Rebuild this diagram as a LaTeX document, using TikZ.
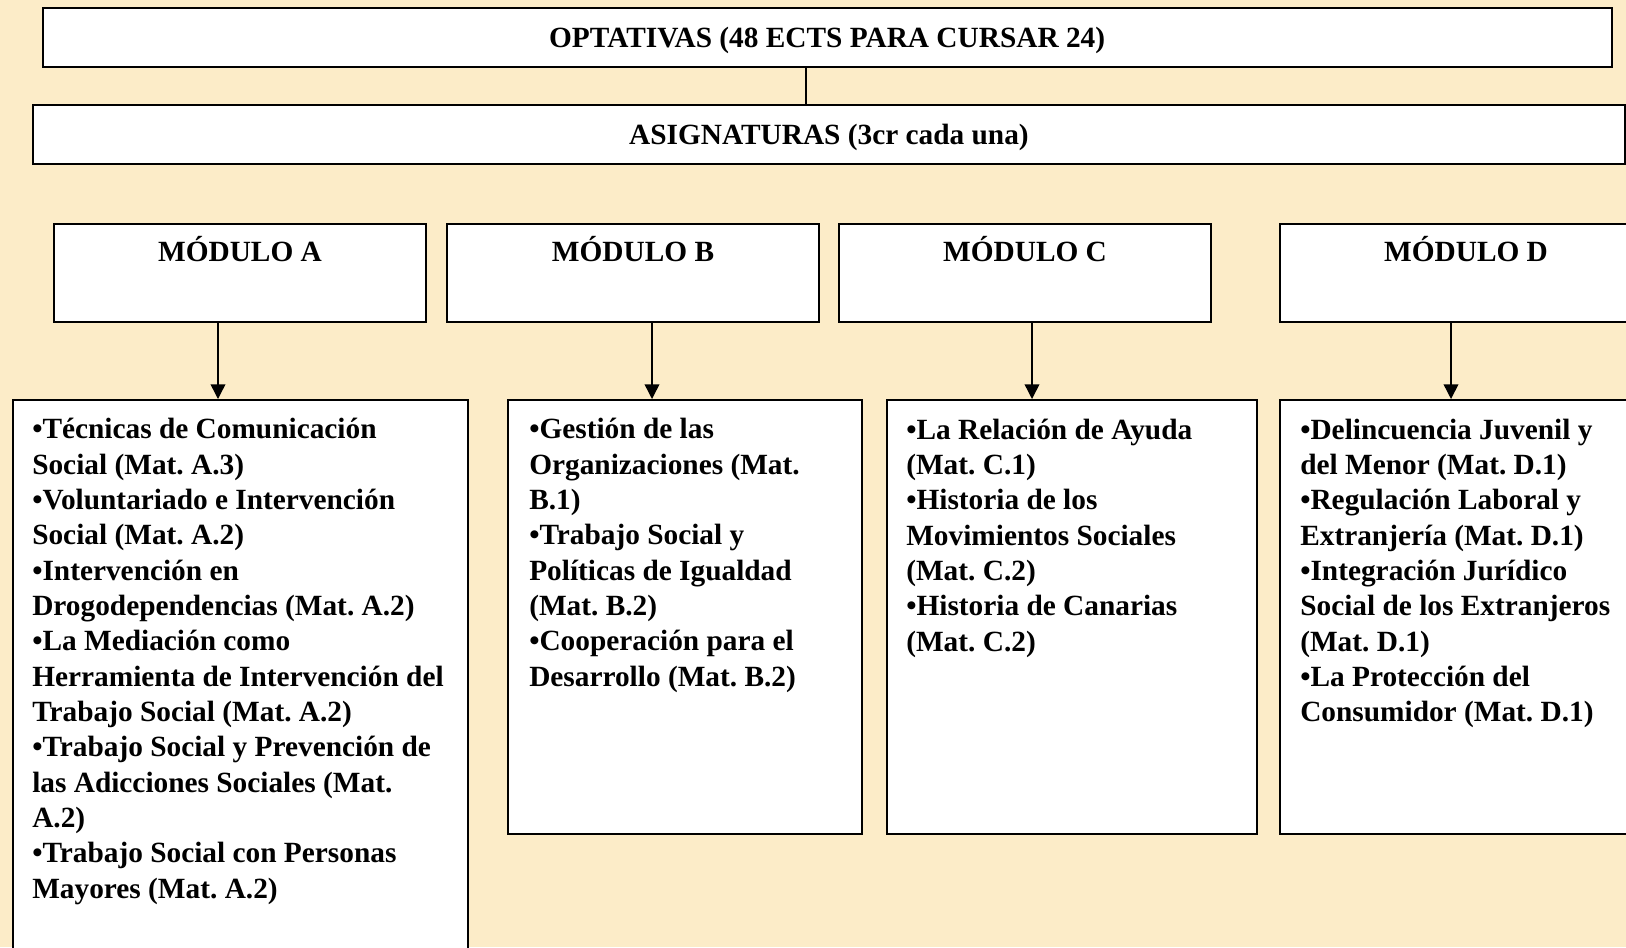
\documentclass[tikz,border=0pt]{standalone}
\usepackage{fontspec}
\setmainfont{Liberation Serif}
\usetikzlibrary{arrows.meta, positioning, calc}
\definecolor{paper}{RGB}{252,236,200}
\frenchspacing

\begin{document}
\begin{tikzpicture}[
        x=0.75pt, y=-0.75pt,
        every node/.style={font=\bfseries\fontsize{22}{26.5}\selectfont},
        bar/.style={rectangle, draw, line width=1.5pt, fill=white, anchor=north west, minimum height=44pt, text depth=0pt},
        modbox/.style={rectangle, draw, line width=1.5pt, fill=white, anchor=north west, minimum width=279pt, minimum height=73.5pt},
        listbox/.style={rectangle, draw, line width=1.5pt, fill=white, anchor=north west, minimum height=325.5pt},
        hdr/.style={anchor=base, inner sep=0pt},
        listtext/.style={anchor=base west, align=left, inner sep=0pt},
        arrow/.style={line width=1.1pt, -{Triangle[length=11pt, width=11pt]}}
    ]
        \clip (0,0) rectangle (1626,947);
        \fill[paper] (0,0) rectangle (1626,947);

        \node (opt) [bar, minimum width=1177pt] at (41.5,7) {OPTATIVAS (48 ECTS PARA CURSAR 24)};
        \node (asig) [bar, minimum width=1194pt] at (32,104) {ASIGNATURAS (3cr cada una)};

        \node (modA) [modbox] at (53,223) {};
        \node (modB) [modbox] at (446,223) {};
        \node (modC) [modbox] at (838,223) {};
        \node (modD) [modbox] at (1279,223) {};
        \node (hA) [hdr] at ([yshift=-28.9pt]modA.north) {MÓDULO A};
        \node (hB) [hdr] at ([yshift=-28.9pt]modB.north) {MÓDULO B};
        \node (hC) [hdr] at ([yshift=-28.9pt]modC.north) {MÓDULO C};
        \node (hD) [hdr] at ([yshift=-28.9pt]modD.north) {MÓDULO D};

        \node (listA) [listbox, minimum width=341.25pt, minimum height=450pt] at (11.7,399) {};
        \node (listB) [listbox, minimum width=265.5pt] at (507,399) {};
        \node (listC) [listbox, minimum width=277.5pt] at (886,399) {};
        \node (listD) [listbox, minimum width=279pt] at (1279,399) {};

        % base of each text is its last line (first line sits at y=439)
        \node (tA) [listtext] at (32,898.3) {•Técnicas de Comunicación\\ Social (Mat. A.3)\\ •Voluntariado e Intervención\\ Social (Mat. A.2)\\ •Intervención en\\ Drogodependencias (Mat. A.2)\\ •La Mediación como\\ Herramienta de Intervención del\\ Trabajo Social (Mat. A.2)\\ •Trabajo Social y Prevención de\\ las Adicciones Sociales (Mat.\\ A.2)\\ •Trabajo Social con Personas\\ Mayores (Mat. A.2)};
        \node (tB) [listtext] at (529,686.3) {•Gestión de las\\ Organizaciones (Mat.\\ B.1)\\ •Trabajo Social y\\ Políticas de Igualdad\\ (Mat. B.2)\\ •Cooperación para el\\ Desarrollo (Mat. B.2)};
        \node (tC) [listtext] at (906,651) {•La Relación de Ayuda\\ (Mat. C.1)\\ •Historia de los\\ Movimientos Sociales\\ (Mat. C.2)\\ •Historia de Canarias\\ (Mat. C.2)};
        \node (tD) [listtext] at (1300,721.7) {•Delincuencia Juvenil y\\ del Menor (Mat. D.1)\\ •Regulación Laboral y\\ Extranjería (Mat. D.1)\\ •Integración Jurídico\\ Social de los Extranjeros\\ (Mat. D.1)\\ •La Protección del\\ Consumidor (Mat. D.1)};

        \coordinate (xT) at (806,0);
        \coordinate (xA) at (218,0);
        \coordinate (xB) at (652,0);
        \coordinate (xC) at (1032,0);
        \coordinate (xD) at (1451,0);

        \draw [line width=1.1pt] (opt.south -| xT) -- (asig.north -| xT);
        \draw [arrow] (modA.south -| xA) -- (listA.north -| xA);
        \draw [arrow] (modB.south -| xB) -- (listB.north -| xB);
        \draw [arrow] (modC.south -| xC) -- (listC.north -| xC);
        \draw [arrow] (modD.south -| xD) -- (listD.north -| xD);
    \end{tikzpicture}
\end{document}
